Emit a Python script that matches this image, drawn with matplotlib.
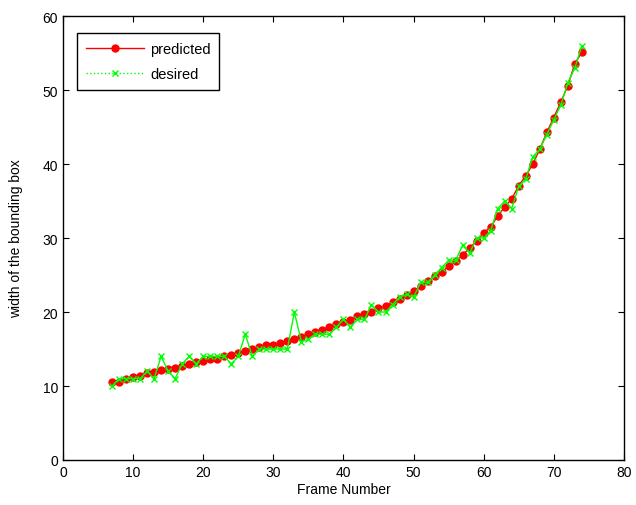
import matplotlib
matplotlib.use("Agg")
import matplotlib.pyplot as plt

plt.rcParams['font.family'] = ['Liberation Sans', 'DejaVu Sans']

frames = list(range(7, 75))

predicted = [10.5, 10.5, 10.9, 11.2, 11.4, 11.7, 11.9, 12.1, 12.3, 12.5,
             12.7, 13.0, 13.2, 13.4, 13.6, 13.7, 14.0, 14.2, 14.5, 14.7,
             15.0, 15.3, 15.5, 15.6, 15.8, 16.1, 16.3, 16.6, 17.0, 17.3,
             17.6, 18.0, 18.4, 18.6, 18.9, 19.4, 19.7, 20.0, 20.5, 20.8,
             21.3, 21.8, 22.3, 22.8, 23.5, 24.2, 24.9, 25.4, 26.2, 26.9,
             27.7, 28.7, 29.6, 30.7, 31.5, 33.0, 34.2, 35.3, 37.1, 38.4,
             40.0, 42.0, 44.3, 46.3, 48.4, 50.6, 53.6, 55.1]

desired = [10, 11, 11, 11, 11, 12, 11, 14, 12, 11,
           13, 14, 13, 14, 14, 14, 14, 13, 14, 17,
           14, 15, 15, 15, 15, 15, 20, 16, 16.3, 17,
           17, 17, 18, 19, 18, 19, 19, 21, 20, 20,
           21, 22, 22.4, 22, 24, 24, 25, 26, 27, 27,
           29, 28, 30, 30, 31, 34, 35, 34, 37, 38,
           41, 42, 44, 46, 48, 51, 53, 56]

fig = plt.figure(figsize=(6.36, 5.06), dpi=100)
ax = fig.add_axes([0.099, 0.089, 0.882, 0.877])

ax.plot(frames, predicted, color='red', marker='o', markersize=5, linewidth=1,
        label='predicted')
ax.plot(frames, desired, color='#00ff00', marker='x', markersize=5, linewidth=1,
        markeredgewidth=1, label='desired')

ax.set_xlim(0, 80)
ax.set_ylim(0, 60)
ax.set_xticks(range(0, 81, 10))
ax.set_yticks(range(0, 61, 10))
ax.tick_params(direction='in', top=True, right=True, labelsize=10, length=4)
for s in ax.spines.values():
    s.set_linewidth(1)
ax.set_xlabel('Frame Number', fontsize=10, labelpad=2)
ax.set_ylabel('width of the bounding box', fontsize=10, labelpad=14)

leg = ax.legend(loc='upper left', bbox_to_anchor=(0.025, 0.962), borderaxespad=0,
                fontsize=10.5, fancybox=False, edgecolor='black', framealpha=1,
                handlelength=4.0, handletextpad=0.4, labelspacing=0.75,
                borderpad=0.6)
leg.get_frame().set_linewidth(1)
leg.get_lines()[1].set_linestyle(':')

fig.savefig('out.png', dpi=100)
